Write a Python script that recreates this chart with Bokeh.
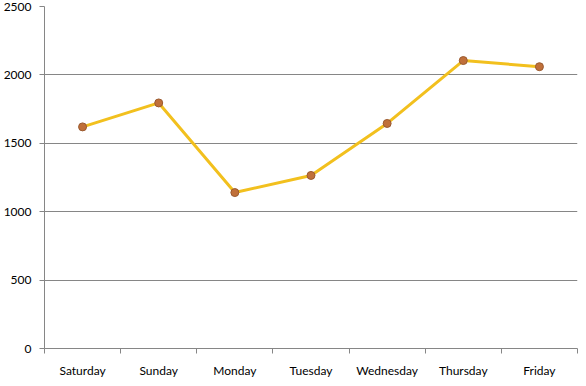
from bokeh.plotting import figure
from bokeh.models import FixedTicker, Range1d, ColumnDataSource
from bokeh.embed import file_html
from bokeh.resources import INLINE

days = ["Saturday", "Sunday", "Monday", "Tuesday", "Wednesday", "Thursday", "Friday"]
values = [1620, 1795, 1140, 1265, 1645, 2105, 2060]
y_ticks = [0, 500, 1000, 1500, 2000, 2500]

xs = [i + 0.5 for i in range(len(days))]
src = ColumnDataSource(dict(x=xs, y=values))

p = figure(width=586, height=386, output_backend="svg", toolbar_location=None,
           x_range=Range1d(0, len(days)), y_range=Range1d(0, 2500),
           min_border_left=43, min_border_right=9, min_border_top=6, min_border_bottom=38)
p.outline_line_color = None
p.background_fill_color = "white"
p.border_fill_color = "white"

p.line("x", "y", source=src, line_color="#F2C01E", line_width=3)
p.scatter("x", "y", source=src, size=8, fill_color="#C0703A", line_color="#9A5A30", line_width=1)

font = "Lato"
gray = "#868686"

xa = p.xaxis[0]
xa.ticker = FixedTicker(ticks=xs, minor_ticks=list(range(len(days) + 1)))
xa.major_label_overrides = {x: d for x, d in zip(xs, days)}
xa.major_tick_out = 0
xa.major_tick_in = 0
xa.minor_tick_out = 5
xa.minor_tick_in = 0
xa.minor_tick_line_color = gray
xa.axis_line_color = gray
xa.major_label_text_font = font
xa.major_label_text_font_size = "12px"
xa.major_label_text_color = "black"
xa.major_label_standoff = 9

ya = p.yaxis[0]
ya.ticker = FixedTicker(ticks=y_ticks)
ya.major_tick_out = 5
ya.major_tick_in = 0
ya.minor_tick_out = 0
ya.minor_tick_in = 0
ya.major_tick_line_color = gray
ya.axis_line_color = gray
ya.major_label_text_font = font
ya.major_label_text_font_size = "12px"
ya.major_label_text_color = "black"
ya.major_label_standoff = 8

p.xgrid.grid_line_color = None
p.ygrid.grid_line_color = gray
p.ygrid.ticker = FixedTicker(ticks=y_ticks)

open("out.html", "w").write(file_html(p, INLINE))
